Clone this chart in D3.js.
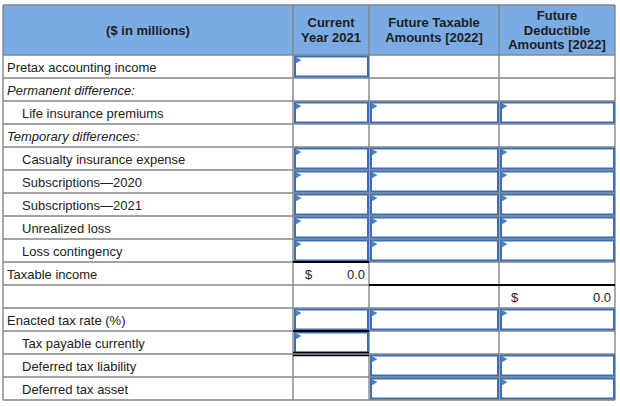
<!DOCTYPE html>
<html><head><meta charset="utf-8">
<script src="https://cdn.jsdelivr.net/npm/d3@7"></script>
<style>
html,body{margin:0;padding:0;background:#fff;}
svg text{font-family:"Liberation Sans",Arial,sans-serif;}
</style></head>
<body><svg id="c" width="620" height="406"></svg>
<script>
// ---- data ----
const headerLines = [
  ["($ in millions)"],
  ["Current", "Year 2021"],
  ["Future Taxable", "Amounts [2022]"],
  ["Future", "Deductible", "Amounts [2022]"]
];
const rowLabels = [
  "Pretax accounting income", "Permanent difference:", "Life insurance premiums",
  "Temporary differences:", "Casualty insurance expense", "Subscriptions\u20142020",
  "Subscriptions\u20142021", "Unrealized loss", "Loss contingency", "Taxable income", "",
  "Enacted tax rate (%)", "Tax payable currently", "Deferred tax liability", "Deferred tax asset"
];
const rowStyle = [
  "plain", "italic", "indent", "italic", "indent", "indent", "indent", "indent", "indent",
  "plain", "plain", "plain", "indent", "indent", "indent"
];
// input boxes: [row, col]
const inputCells = [
  [0,1], [2,1],[2,2],[2,3], [4,1],[4,2],[4,3], [5,1],[5,2],[5,3], [6,1],[6,2],[6,3],
  [7,1],[7,2],[7,3], [8,1],[8,2],[8,3], [11,1],[11,2],[11,3], [12,1],
  [13,2],[13,3], [14,2],[14,3]
];
// computed values: [row, col, value]
const valueCells = [[9,1,0.0],[10,3,0.0]];
// rules: [row, colFrom, colTo, type] ('top' line of row)
const rules = [[9,1,1,"single"],[10,2,3,"single"],[12,1,1,"single"],[13,1,1,"double"]];

// ---- layout ----
const colEdges = [3, 293, 369, 499, 615];
const tableTop = 5, headH = 50, tableBottom = 400;
const fs = 13;
const svg = d3.select("#c");
const y = d3.scaleBand().domain(d3.range(rowLabels.length)).range([tableTop+headH, tableBottom]).paddingInner(0).paddingOuter(0);
const x0 = d3.scaleOrdinal().domain(d3.range(4)).range(colEdges.slice(0,4));
const x1 = d3.scaleOrdinal().domain(d3.range(4)).range(colEdges.slice(1));
const grid = "#868686", blue = "#3c6eb4";

// header bg
svg.append("rect").attr("x", colEdges[0]).attr("y", tableTop).attr("width", colEdges[4]-colEdges[0]).attr("height", headH).attr("fill", "#7aabe2");

// header text
headerLines.forEach((lines, c) => {
  const cx = (x0(c) + x1(c)) / 2, lh = 14.5;
  const cy = tableTop + headH/2 - (lines.length-1)*lh/2;
  lines.forEach((t, i) => {
    svg.append("text").attr("x", cx).attr("y", cy + i*lh).attr("dy", "0.36em")
      .attr("text-anchor", "middle").attr("font-size", fs).attr("font-weight", "bold")
      .attr("fill", "#1f1f1f").text(t);
  });
});

// grid lines
const g = svg.append("g").attr("stroke", grid).attr("stroke-width", 1.4).attr("fill", "none");
[tableTop, tableTop+headH].concat(y.domain().map(r => y(r) + y.bandwidth())).forEach(yy => {
  g.append("line").attr("x1", colEdges[0]).attr("x2", colEdges[4]).attr("y1", yy).attr("y2", yy);
});
colEdges.forEach(xx => {
  g.append("line").attr("x1", xx).attr("x2", xx).attr("y1", tableTop).attr("y2", tableBottom);
});

// row labels
rowLabels.forEach((t, r) => {
  const st = rowStyle[r];
  svg.append("text").attr("x", st === "indent" ? 22 : 7).attr("y", y(r) + y.bandwidth()/2 + 0.5).attr("dy", "0.36em")
    .attr("font-size", fs).attr("fill", "#222")
    .attr("font-style", st === "italic" ? "italic" : "normal").text(t);
});

// input boxes
inputCells.forEach(([r, c]) => {
  const xa = x0(c) + 2, xb = x1(c) - 1, ya = y(r) + 1.5, yb = y(r) + y.bandwidth() - 1.5;
  svg.append("rect").attr("x", xa).attr("y", ya).attr("width", xb - xa).attr("height", yb - ya)
    .attr("fill", "#fff").attr("stroke", blue).attr("stroke-width", 2);
  svg.append("path").attr("d", `M${xa+0.5},${ya+0.5}L${xa+6.5},${ya+3.5}L${xa+0.5},${ya+7}Z`).attr("fill", "#4a80c8");
});

// values
valueCells.forEach(([r, c, v]) => {
  const cy = y(r) + y.bandwidth()/2 + 0.5;
  svg.append("text").attr("x", x0(c) + 12).attr("y", cy).attr("dy", "0.36em").attr("font-size", fs).attr("fill", "#222").text("$");
  svg.append("text").attr("x", x1(c) - 4).attr("y", cy).attr("dy", "0.36em").attr("font-size", fs)
    .attr("text-anchor", "end").attr("fill", "#222").text(d3.format(".1f")(v));
});

// rules
rules.forEach(([r, ca, cb, type]) => {
  const yy = y(r);
  if (type === "double") {
    [-1.5, 1.5].forEach(o => svg.append("line").attr("x1", x0(ca)).attr("x2", x1(cb)).attr("y1", yy+o).attr("y2", yy+o).attr("stroke", "#000").attr("stroke-width", 1.3));
  } else {
    svg.append("line").attr("x1", x0(ca)).attr("x2", x1(cb)).attr("y1", yy).attr("y2", yy).attr("stroke", "#000").attr("stroke-width", 2);
  }
});
</script></body></html>
